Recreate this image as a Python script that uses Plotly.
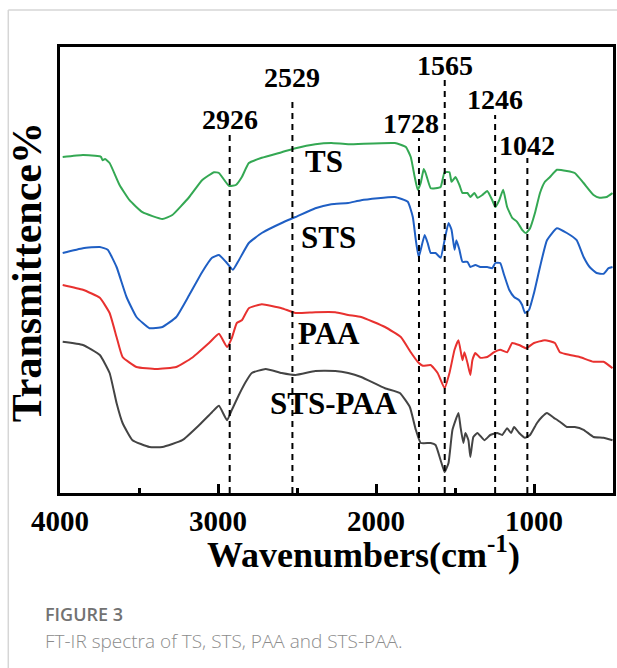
import plotly.graph_objects as go

# ---------------- data (wavenumber cm-1, transmittance a.u.) ----------------
ts_w = [3983, 3855, 3748, 3740, 3730, 3715, 3686, 3623, 3560, 3478, 3352, 3289, 3182, 3101, 3025, 2994,
        2931, 2887, 2849, 2805, 2723, 2597, 2509, 2384, 2283, 2176, 1881, 1811, 1780, 1755, 1736, 1717,
        1698, 1686, 1654, 1623, 1591, 1566, 1535, 1522, 1497, 1472, 1453, 1421, 1403, 1377, 1358, 1327,
        1296, 1264, 1245, 1220, 1195, 1170, 1138, 1107, 1075, 1050, 1025, 994, 962, 931, 899, 855, 792,
        742, 686, 623, 585, 541, 503]
ts_t = [84.0, 84.5, 84.2, 84.0, 83.2, 83.5, 82.5, 77.0, 73.2, 70.2, 68.5, 69.5, 74.0, 78.2, 80.2, 80.0,
        76.8, 77.0, 79.0, 82.5, 83.8, 85.2, 86.2, 87.2, 87.5, 87.2, 87.5, 86.5, 84.0, 79.0, 75.8, 77.5,
        81.0, 80.0, 76.2, 76.2, 76.5, 80.2, 80.2, 77.8, 79.0, 77.0, 75.0, 75.0, 74.0, 75.0, 73.8, 74.5,
        75.5, 73.2, 71.5, 73.2, 75.8, 71.5, 68.8, 67.8, 65.8, 65.0, 66.2, 70.0, 75.0, 77.8, 79.0, 80.8, 80.5,
        80.0, 77.5, 74.5, 73.8, 74.0, 75.0]

sts_w = [3983, 3855, 3748, 3698, 3642, 3579, 3516, 3434, 3352, 3264, 3182, 3101, 3038, 2994, 2950, 2906,
         2868, 2805, 2723, 2597, 2509, 2384, 2283, 2176, 2094, 1881, 1799, 1767, 1748, 1730, 1717, 1692,
         1673, 1654, 1623, 1591, 1566, 1541, 1522, 1503, 1491, 1472, 1453, 1421, 1403, 1371, 1340, 1296,
         1264, 1245, 1214, 1189, 1157, 1126, 1094, 1075, 1057, 1031, 1000, 962, 918, 855, 792, 730, 686,
         648, 604, 560, 528, 503]
sts_t = [60.0, 61.2, 61.5, 60.8, 56.5, 49.0, 44.0, 41.2, 41.5, 44.0, 49.5, 55.2, 58.8, 59.5, 57.8, 55.8,
         58.2, 62.5, 65.0, 67.5, 69.0, 71.2, 72.2, 72.5, 73.2, 74.0, 72.8, 69.0, 63.2, 59.0, 60.8, 64.5,
         62.5, 60.0, 60.0, 58.8, 63.2, 67.5, 65.8, 60.8, 63.2, 60.8, 57.8, 57.8, 56.5, 57.0, 56.5, 56.5,
         56.2, 57.5, 57.5, 54.5, 50.8, 49.0, 48.2, 47.0, 45.0, 45.8, 50.0, 56.5, 63.2, 66.2, 65.0, 63.2, 59.0,
         56.5, 55.0, 54.8, 56.2, 56.5]

paa_w = [3983, 3855, 3748, 3686, 3642, 3604, 3516, 3390, 3264, 3164, 3057, 2994, 2943, 2912, 2881, 2849,
         2805, 2723, 2597, 2509, 2384, 2258, 2176, 2094, 1943, 1843, 1780, 1736, 1704, 1654, 1610, 1566,
         1535, 1503, 1478, 1453, 1440, 1421, 1403, 1390, 1371, 1340, 1296, 1252, 1214, 1170, 1138, 1094,
         1050, 1000, 931, 868, 836, 773, 711, 623, 560, 503]
paa_t = [52.0, 50.8, 48.8, 45.0, 39.0, 34.0, 31.5, 31.0, 31.5, 33.8, 37.5, 39.8, 36.5, 38.8, 42.5, 43.2,
         46.2, 47.2, 46.2, 45.0, 45.2, 45.2, 44.5, 44.0, 41.5, 39.0, 35.2, 32.8, 31.8, 32.0, 30.0, 26.2,
         30.0, 35.8, 38.2, 33.2, 35.2, 32.5, 29.5, 33.2, 35.0, 33.8, 34.0, 35.2, 35.8, 35.2, 37.5, 37.0,
         36.2, 37.5, 38.2, 37.5, 35.2, 34.5, 34.0, 32.8, 32.8, 31.2]

stspaa_w = [3983, 3855, 3748, 3686, 3642, 3604, 3541, 3434, 3352, 3226, 3119, 3038, 2994, 2943, 2912, 2868,
            2824, 2786, 2698, 2597, 2509, 2384, 2258, 2176, 2094, 1943, 1849, 1786, 1748, 1717, 1654, 1623,
            1591, 1566, 1541, 1516, 1478, 1465, 1447, 1434, 1415, 1403, 1384, 1358, 1314, 1277, 1233, 1201,
            1170, 1145, 1126, 1094, 1057, 1025, 981, 950, 918, 874, 836, 792, 742, 686, 623, 560, 503]
stspaa_t = [37.8, 37.0, 34.5, 30.0, 22.5, 17.5, 13.2, 11.5, 11.5, 13.2, 17.0, 20.2, 21.8, 18.2, 20.8, 24.5,
            27.8, 30.0, 31.0, 30.0, 29.5, 30.5, 30.5, 30.0, 29.0, 26.2, 25.0, 21.5, 15.8, 12.5, 12.5, 12.0,
            8.2, 5.2, 7.5, 15.8, 20.0, 16.5, 12.5, 15.0, 13.2, 9.0, 14.0, 15.0, 13.2, 14.5, 15.0, 14.5,
            16.2, 15.0, 16.5, 15.0, 13.8, 14.5, 17.5, 19.0, 20.0, 18.8, 17.8, 16.5, 16.5, 15.8, 14.0, 13.8, 13.2]

series_names = ["TS", "STS", "PAA", "STS-PAA"]
series_colors = ["#34a853", "#1f5fc4", "#e8312f", "#444444"]

peak_wavenumbers = [2926, 2529, 1728, 1565, 1246, 1042]
peak_line_tops = [89.5, 99.0, 88.75, 103.25, 94.5, 83.75]
peak_label_w = [2926, 2529, 1779, 1565, 1246, 1042]
peak_label_t = [93.3, 103.8, 92.5, 107.0, 98.3, 87.0]

sample_label_w = [2326, 2301, 2295, 2269]
sample_label_t = [83.0, 64.0, 40.0, 22.5]

x_ticks = [4000, 3000, 2000, 1000]
x_minor = [3500, 2500, 1500]

# ---------------- figure ----------------
fig = go.Figure()
serif = "Liberation Serif"

for w, t, name, col in zip([ts_w, sts_w, paa_w, stspaa_w], [ts_t, sts_t, paa_t, stspaa_t],
                           series_names, series_colors):
    fig.add_trace(go.Scatter(x=w, y=t, mode="lines", name=name,
                             line=dict(color=col, width=2, shape="spline", smoothing=0.4),
                             showlegend=False, hoverinfo="skip"))

for pw, top in zip(peak_wavenumbers, peak_line_tops):
    fig.add_trace(go.Scatter(x=[pw, pw], y=[0, top], mode="lines",
                             line=dict(color="black", width=2, dash="6px,5px"),
                             showlegend=False, hoverinfo="skip"))

for pw, lw, lt in zip(peak_wavenumbers, peak_label_w, peak_label_t):
    fig.add_annotation(x=lw, y=lt, text=str(pw), showarrow=False,
                       xanchor="center", yanchor="middle",
                       font=dict(family=serif, size=28, color="black", weight="bold"))

for name, lw, lt in zip(series_names, sample_label_w, sample_label_t):
    fig.add_annotation(x=lw, y=lt, text=name, showarrow=False,
                       xanchor="center", yanchor="middle",
                       font=dict(family=serif, size=31, color="black", weight="bold"))

# axis titles
fig.add_annotation(xref="paper", yref="paper", x=0.5486, y=-0.1345,
                   xanchor="center", yanchor="middle",
                   text="Wavenumbers(cm<sup>-1</sup>)", showarrow=False,
                   font=dict(family=serif, size=36, color="black", weight="bold"))
fig.add_annotation(xref="paper", yref="paper", x=-0.0594, y=0.4955,
                   xanchor="center", yanchor="middle",
                   text="Transmittence%", showarrow=False, textangle=-90,
                   font=dict(family=serif, size=42, color="black", weight="bold"))

# caption
fig.add_annotation(xref="paper", yref="paper", x=-0.0306, y=-0.2713,
                   xanchor="left", yanchor="middle",
                   text="FIGURE 3", showarrow=False,
                   font=dict(family="Open Sans", size=18, color="#727272", weight=600))
fig.add_annotation(xref="paper", yref="paper", x=-0.0306, y=-0.3318,
                   xanchor="left", yanchor="middle",
                   text="FT-IR spectra of TS, STS, PAA and STS-PAA.", showarrow=False,
                   font=dict(family="Open Sans", size=19, color="#8c8c8c", weight=300))

# page card border
fig.add_shape(type="line", xref="paper", yref="paper", x0=-0.0935, x1=1.01, y0=1.083, y1=1.083,
              line=dict(color="#d6d6d6", width=1.5))
fig.add_shape(type="line", xref="paper", yref="paper", x0=-0.0935, x1=-0.0935, y0=1.083, y1=-0.40,
              line=dict(color="#d6d6d6", width=1.5))

fig.update_xaxes(range=[4000, 500], showgrid=False, zeroline=False,
                 showline=True, linecolor="black", linewidth=3, mirror=True,
                 tickmode="array", tickvals=x_ticks, ticktext=[str(v) for v in x_ticks],
                 ticks="inside", ticklen=9, tickwidth=2.5, tickcolor="black",
                 tickfont=dict(family=serif, size=29, color="black", weight="bold"),
                 minor=dict(tickmode="array", tickvals=x_minor, ticks="inside",
                            ticklen=5, tickwidth=2.5, tickcolor="black"))
fig.update_yaxes(range=[0, 111.5], showgrid=False, zeroline=False,
                 showline=True, linecolor="black", linewidth=3, mirror=True,
                 showticklabels=False, ticks="")

fig.update_layout(width=617, height=668, margin=dict(l=60, r=1, t=47, b=175),
                  plot_bgcolor="white", paper_bgcolor="white", showlegend=False)

fig.write_html("out.html", config={"displayModeBar": False},
               post_script="document.body.style.margin='0px';")
